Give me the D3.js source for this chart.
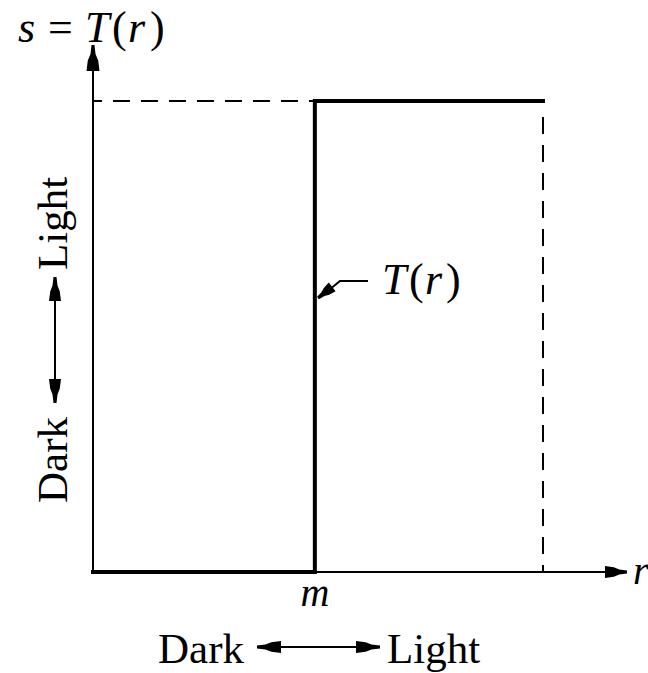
<!DOCTYPE html>
<html>
<head>
<meta charset="utf-8">
<script src="https://cdn.jsdelivr.net/npm/d3@7"></script>
<style>
  body { margin: 0; background: #fff; }
  svg { display: block; }
  text { font-family: "Liberation Serif", "Times New Roman", serif; fill: #000; }
  .it { font-style: italic; }
</style>
</head>
<body>
<div id="chart"></div>
<script>
// threshold function s = T(r): dark below m, light above
const rLevels = [0, 0.493, 0.493, 1];   // r positions of the curve corners
const sLevels = [0, 0, 1, 1];           // matching s values
const mValue = 0.493;
const rMax = 1, sMax = 1;
const toneLabels = ["Dark", "Light"];

const width = 648, height = 673;
const svg = d3.select("#chart").append("svg")
    .attr("width", width).attr("height", height);

const x = d3.scaleLinear().domain([0, rMax]).range([93, 543]);
const y = d3.scaleLinear().domain([0, sMax]).range([572, 101]);

// arrow head, tip at (0,0) pointing right
function head(len, w) {
  const h = w / 2;
  return `M0,-1.5 L${-len * 0.35},-2.5 L${-len * 0.6},${-h * 0.8} L${-len},${-h}` +
         ` L${-len},${h} L${-len * 0.6},${h * 0.8} L${-len * 0.35},2.5 L0,1.5 Z`;
}
function arrowAt(px, py, angle, len, w) {
  svg.append("path")
    .attr("d", head(len, w))
    .attr("transform", `translate(${px},${py}) rotate(${angle})`)
    .attr("fill", "#000");
}

// math-style label: italic letters, upright = and ()
function mathLabel(parts, baseY, size) {
  parts.forEach(p => {
    svg.append("text").attr("x", p[1]).attr("y", baseY).attr("font-size", size)
      .attr("font-style", p[2] ? "italic" : "normal").text(p[0]);
  });
}

// dashed guides
svg.append("line")
  .attr("x1", x(0)).attr("x2", x(mValue))
  .attr("y1", y(sMax)).attr("y2", y(sMax))
  .attr("stroke", "#000").attr("stroke-width", 2)
  .attr("stroke-dasharray", "17,11").attr("stroke-dashoffset", -20);
svg.append("line")
  .attr("x1", x(rMax)).attr("x2", x(rMax))
  .attr("y1", y(sMax) + 16).attr("y2", y(0))
  .attr("stroke", "#000").attr("stroke-width", 2)
  .attr("stroke-dasharray", "17,11");

// axes
const axisX = x(rMax) + 84, axisY = y(sMax) - 56;
svg.append("line").attr("x1", x(0)).attr("x2", axisX - 14)
  .attr("y1", y(0)).attr("y2", y(0)).attr("stroke", "#000").attr("stroke-width", 2);
svg.append("line").attr("x1", x(0)).attr("x2", x(0))
  .attr("y1", y(0) + 1).attr("y2", axisY + 14).attr("stroke", "#000").attr("stroke-width", 2);
arrowAt(axisX, y(0), 0, 22, 12);
arrowAt(x(0), axisY, -90, 26, 13);

// T(r)
const line = d3.line().x((d, i) => x(rLevels[i])).y((d, i) => y(sLevels[i]));
svg.append("path")
  .attr("d", line(rLevels))
  .attr("fill", "none").attr("stroke", "#000")
  .attr("stroke-width", 4).attr("stroke-linejoin", "miter").attr("stroke-linecap", "square");

// leader to curve
svg.append("path")
  .attr("d", "M368,281 L340,281 L329,290")
  .attr("fill", "none").attr("stroke", "#000").attr("stroke-width", 2);
arrowAt(318, 298, 142, 18, 11);

mathLabel([["T", 382, true], ["(", 409, false], ["r", 425, true], [")", 446, false]], 294, 44);

// axis titles
mathLabel([["s", 18, true], ["=", 48, false], ["T", 85, true], ["(", 112, false],
           ["r", 128, true], [")", 150, false]], 42, 44);
svg.append("text").attr("class", "it")
  .attr("x", 633).attr("y", 584).attr("font-size", 40).text("r");
svg.append("text").attr("class", "it")
  .attr("x", x(mValue)).attr("y", 606).attr("text-anchor", "middle")
  .attr("font-size", 40).text("m");

// tone direction (horizontal)
svg.append("text").attr("x", 158).attr("y", 663).attr("font-size", 43).text(toneLabels[0]);
svg.append("text").attr("x", 387).attr("y", 663).attr("font-size", 43).text(toneLabels[1]);
svg.append("line").attr("x1", 270).attr("x2", 368).attr("y1", 647).attr("y2", 647)
  .attr("stroke", "#000").attr("stroke-width", 2);
arrowAt(257, 647, 180, 24, 12);
arrowAt(380, 647, 0, 24, 12);

// tone direction (vertical)
const v = svg.append("g").attr("transform", "translate(67,0) rotate(-90)");
v.append("text").attr("x", -503).attr("y", 0).attr("font-size", 43).text(toneLabels[0]);
v.append("text").attr("x", -270).attr("y", 0).attr("font-size", 43).text(toneLabels[1]);
svg.append("line").attr("x1", 55).attr("x2", 55).attr("y1", 290).attr("y2", 391)
  .attr("stroke", "#000").attr("stroke-width", 2);
arrowAt(55, 277, -90, 24, 12);
arrowAt(55, 403, 90, 24, 12);
</script>
</body>
</html>
